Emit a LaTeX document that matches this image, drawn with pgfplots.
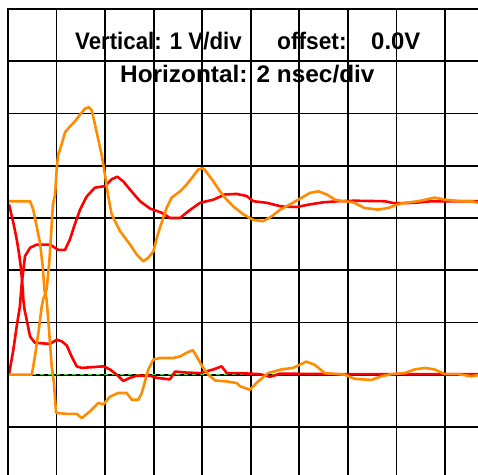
\documentclass[border=0pt]{standalone}
\usepackage{fontspec}
\setmainfont{Liberation Sans}
\usepackage{pgfplots}
\pgfplotsset{compat=1.18}
\definecolor{tred}{RGB}{255,0,0}
\definecolor{torange}{RGB}{255,140,0}
\definecolor{tgreen}{RGB}{40,230,40}
\begin{document}
\begin{tikzpicture}[x=1bp,y=1bp]
\useasboundingbox (0,0) rectangle (478,475);
\begin{axis}[
  at={(8bp,0bp)}, anchor=south west,
  scale only axis, width=470bp, height=466bp,
  xmin=0, xmax=19.36, ymin=-1.92, ymax=7,
  axis line style={draw=none},
  xtick={0,2,...,18}, ytick={-1,0,...,7},
  xticklabels={}, yticklabels={},
  major tick length=0pt,
  grid=major, major grid style={black, line width=1.7bp},
  clip=true,
]
% zero reference line
\addplot[black, line width=1.4bp] coordinates {(0,0) (19.36,0)};
\addplot[tgreen, line width=1.4bp, dash pattern=on 4bp off 4bp] coordinates {(0,0) (19.36,0)};
% red rising
\addplot[tred, line width=2.6bp, line join=round] coordinates {
(0.04,0) (0.22,0.48) (0.36,0.93) (0.49,1.31) (0.56,1.72) (0.70,2.27) (0.91,2.43)
(1.18,2.49) (1.73,2.49) (2.07,2.39) (2.35,2.39) (2.55,2.59) (2.76,2.89) (2.97,3.16)
(3.24,3.41) (3.58,3.58) (4.00,3.61) (4.27,3.74) (4.50,3.79) (4.75,3.70) (5.03,3.54)
(5.44,3.32) (5.85,3.18) (6.33,3.10) (6.67,3.00) (7.09,3.00) (7.43,3.13) (7.91,3.29)
(8.46,3.35) (8.94,3.45) (9.42,3.46) (9.83,3.42) (10.11,3.32) (10.66,3.29) (11.26,3.22)
(11.89,3.21) (12.44,3.26) (12.99,3.30) (13.59,3.32) (14.28,3.33) (15.52,3.32) (15.93,3.28)
(16.75,3.29) (17.44,3.32) (18.26,3.32) (19.36,3.32)};
% red falling
\addplot[tred, line width=2.6bp, line join=round] coordinates {
(0.04,3.26) (0.22,2.91) (0.36,2.59) (0.47,2.27) (0.54,2.01) (0.61,1.63) (0.63,1.44)
(0.68,1.25) (0.77,1.05) (0.91,0.73) (1.11,0.61) (1.73,0.59) (2.01,0.67) (2.21,0.64)
(2.42,0.56) (2.62,0.35) (2.83,0.16) (3.04,0.13) (3.93,0.16) (4.20,0.10) (4.48,0.0)
(4.75,-0.12) (5.03,-0.06) (5.30,-0.02) (5.85,-0.02) (6.13,-0.06) (6.67,-0.09) (6.88,0.06)
(7.36,0.04) (7.91,0.03) (8.46,0.10) (8.80,0.16) (9.01,0.03) (9.56,0.03) (10.38,0.01)
(10.80,-0.04) (11.20,0.02) (14.0,0.01) (19.36,0.01)};
% orange rising
\addplot[torange, line width=2.6bp, line join=round] coordinates {
(0.04,0) (0.98,0) (1.11,0.35) (1.25,0.80) (1.32,1.05) (1.39,1.31) (1.45,1.44)
(1.59,1.63) (1.70,2.15) (1.77,2.66) (1.85,3.26) (1.94,3.45) (2.01,3.97) (2.07,4.21)
(2.21,4.41) (2.35,4.64) (2.55,4.75) (2.76,4.85) (2.97,4.98) (3.17,5.09) (3.34,5.12)
(3.45,5.06) (3.58,4.79) (3.72,4.50) (3.86,4.20) (4.00,3.81) (4.13,3.41) (4.27,3.07)
(4.41,2.94) (4.61,2.75) (4.82,2.62) (5.03,2.49) (5.30,2.30) (5.57,2.17) (5.78,2.24)
(5.99,2.36) (6.13,2.62) (6.26,2.82) (6.40,3.01) (6.54,3.20) (6.74,3.39) (7.09,3.51)
(7.36,3.64) (7.63,3.80) (7.84,3.93) (8.05,3.95) (8.25,3.83) (8.46,3.70) (8.73,3.51)
(9.01,3.35) (9.28,3.22) (9.69,3.07) (10.11,2.96) (10.52,2.94) (10.86,3.03) (11.21,3.16)
(11.62,3.26) (12.03,3.37) (12.44,3.48) (12.78,3.51) (13.13,3.45) (13.47,3.35) (13.81,3.32)
(14.22,3.30) (14.69,3.19) (15.24,3.16) (15.65,3.19) (16.20,3.28) (16.89,3.32) (17.58,3.39)
(17.99,3.35) (18.67,3.32) (19.09,3.32) (19.36,3.29)};
% orange falling
\addplot[torange, line width=2.6bp, line join=round] coordinates {
(0.04,3.32) (0.91,3.32) (1.04,3.16) (1.18,2.84) (1.32,2.52) (1.43,2.07) (1.50,1.63)
(1.59,1.44) (1.69,0.86) (1.80,0.16) (1.89,-0.15) (1.98,-0.73) (2.42,-0.75) (2.83,-0.75)
(3.04,-0.83) (3.38,-0.70) (3.72,-0.54) (3.93,-0.57) (4.20,-0.42) (4.54,-0.35) (4.89,-0.35)
(5.10,-0.48) (5.37,-0.48) (5.51,-0.35) (5.66,-0.10) (5.78,0.10) (5.99,0.29) (6.26,0.32)
(6.81,0.32) (7.09,0.35) (7.36,0.42) (7.61,0.47) (7.77,0.35) (8.00,0.16) (8.25,0.0)
(8.53,-0.11) (9.01,-0.13) (9.42,-0.16) (9.56,-0.22) (9.96,-0.29) (10.30,-0.13) (10.71,0.03)
(11.26,0.10) (11.74,0.13) (12.29,0.25) (12.63,0.19) (13.05,0.03) (13.87,0.0) (14.28,-0.08)
(14.97,-0.10) (15.38,-0.03) (15.79,0.01) (16.34,0.03) (16.75,0.10) (17.17,0.13) (17.58,0.10)
(17.99,0.01) (18.54,0.01) (19.09,-0.03) (19.36,-0.01)};
\end{axis}
\draw[black, line width=2.4bp] (8,0) -- (8,466) -- (478,466);
\begin{scope}[every node/.style={inner sep=0pt, anchor=base west, font=\fontsize{24}{28}\selectfont\bfseries}]
\node at (75,425) {\scalebox{0.93}[1]{Vertical: 1 V/div}};
\node at (277,425) {\scalebox{0.95}[1]{offset:}};
\node at (371,425) {0.0V};
\node at (120,392) {\scalebox{1.02}[1]{Horizontal: 2 nsec/div}};
\end{scope}
\end{tikzpicture}
\end{document}
